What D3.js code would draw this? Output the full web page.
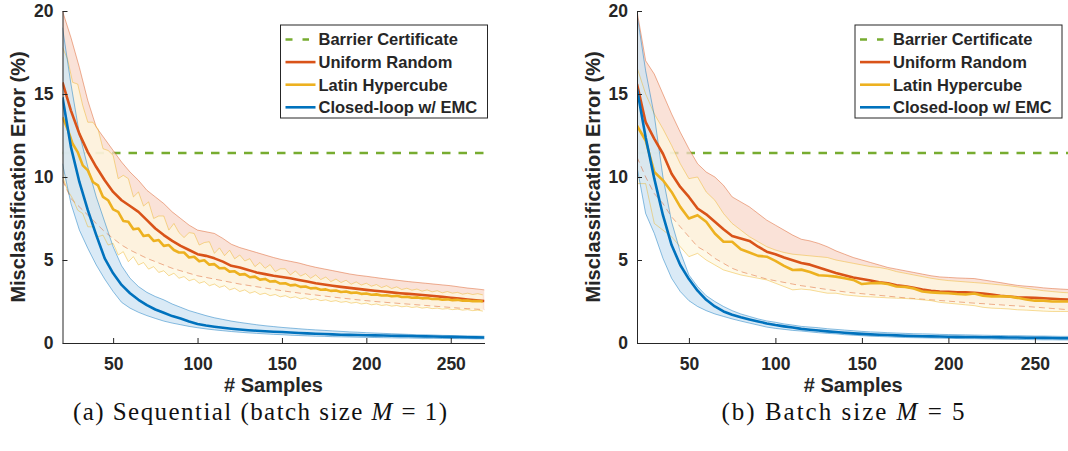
<!DOCTYPE html>
<html>
<head>
<meta charset="utf-8">
<title>Misclassification error vs. number of samples</title>
<script src="https://cdn.jsdelivr.net/npm/d3@7"></script>
<style>
  * { margin:0; padding:0; }
  body { background:#fff; }
  svg text { font-family:"Liberation Sans", Arial, sans-serif; fill:#262626; }
</style>
</head>
<body>
<div id="show"></div>
<script>
// ---------- data ----------
var xTicks = [50, 100, 150, 200, 250];
var yTicks = [0, 5, 10, 15, 20];
var legendNames = ["Barrier Certificate", "Uniform Random", "Latin Hypercube", "Closed-loop w/ EMC"];
var barrierLevel = [11.45];

// sample grids
var xs5 = d3.range(20, 271, 5);     // every 5 samples (smooth curves, batch M=5)
var xs3 = d3.range(20, 270, 3);     // every 3 samples (jagged curves, sequential)

// (a) sequential
var seqUniformMean = [15.7,14.0,12.6,11.5,10.6,9.8,9.1,8.6,8.25,7.9,7.4,6.9,6.5,6.15,5.85,5.6,5.35,5.25,5.1,4.9,4.65,4.55,4.4,4.25,4.15,4.05,3.98,3.9,3.8,3.7,3.6,3.52,3.45,3.38,3.32,3.26,3.2,3.15,3.1,3.05,3.0,2.96,2.92,2.88,2.83,2.78,2.73,2.68,2.62,2.57,2.53];
var seqUniformHi = [20.0,18.4,16.6,14.6,13.0,12.3,11.6,10.9,10.3,9.8,9.2,8.8,8.4,7.9,7.5,7.1,6.8,6.7,6.6,6.3,5.95,5.75,5.6,5.45,5.3,5.15,5.02,4.92,4.82,4.68,4.56,4.46,4.36,4.26,4.16,4.08,4.02,3.95,3.88,3.82,3.76,3.7,3.65,3.6,3.55,3.5,3.45,3.38,3.31,3.26,3.2];
var seqUniformLo = [9.8,8.7,8.2,7.7,7.2,6.7,6.3,5.9,5.6,5.35,5.1,4.9,4.7,4.5,4.35,4.2,4.05,3.95,3.85,3.75,3.65,3.55,3.47,3.39,3.31,3.23,3.15,3.08,3.01,2.95,2.89,2.83,2.77,2.71,2.66,2.6,2.55,2.5,2.46,2.42,2.38,2.34,2.3,2.26,2.22,2.18,2.14,2.1,2.07,2.04,2.01];

var seqLatinMean = [13.6,12.9,12.0,11.5,10.7,10.4,9.7,9.5,8.8,8.6,8.05,7.9,7.35,7.3,6.85,6.9,6.45,6.5,6.15,6.2,5.85,5.9,5.6,5.45,5.45,5.15,5.2,4.92,4.98,4.72,4.75,4.5,4.52,4.3,4.32,4.12,4.15,3.96,4.0,3.82,3.86,3.7,3.73,3.58,3.6,3.47,3.5,3.38,3.4,3.29,3.31,3.21,3.23,3.14,3.16,3.07,3.1,3.02,3.04,2.96,2.98,2.91,2.93,2.86,2.88,2.82,2.84,2.77,2.79,2.73,2.75,2.69,2.71,2.65,2.67,2.61,2.63,2.58,2.6,2.55,2.56,2.52,2.53,2.5];
var seqLatinHi = [17.8,17.1,15.7,15.6,14.3,13.3,13.3,12.9,11.7,11.6,11.3,9.9,10.1,9.9,8.8,9.1,8.25,8.5,7.5,7.65,7.65,6.8,7.2,6.65,6.35,6.65,6.6,5.9,6.05,6.1,5.4,5.73,5.26,5.59,5.07,5.3,4.94,5.08,4.6,4.85,4.5,4.72,4.3,4.47,4.47,4.1,4.34,4.03,4.18,3.9,4.1,3.82,3.97,3.7,3.85,3.64,3.78,3.54,3.68,3.49,3.6,3.42,3.52,3.34,3.45,3.28,3.38,3.22,3.3,3.18,3.25,3.12,3.2,3.08,3.15,3.02,3.1,3.0,3.05,2.94,3.0,2.92,2.97,2.9];
var seqLatinLo = [10.0,9.2,8.7,8.0,7.8,7.0,7.0,6.4,6.5,5.9,6.0,5.3,5.5,4.9,5.2,4.7,4.85,4.45,4.6,4.25,4.35,4.05,4.2,3.9,4.0,3.75,3.85,3.6,3.7,3.45,3.55,3.35,3.45,3.2,3.3,3.1,3.2,3.0,3.1,2.92,3.0,2.85,2.92,2.78,2.85,2.72,2.78,2.66,2.72,2.6,2.66,2.55,2.6,2.5,2.55,2.45,2.5,2.4,2.45,2.35,2.4,2.3,2.35,2.26,2.3,2.22,2.26,2.18,2.22,2.14,2.18,2.1,2.14,2.07,2.1,2.04,2.07,2.01,2.04,1.98,2.01,1.95,1.98,1.92];

var seqEmcMean = [14.8,11.8,9.7,8.0,6.5,5.1,4.2,3.5,3.0,2.6,2.28,2.02,1.82,1.62,1.47,1.3,1.15,1.05,0.98,0.92,0.86,0.81,0.77,0.74,0.71,0.68,0.66,0.63,0.6,0.58,0.56,0.54,0.52,0.5,0.49,0.48,0.47,0.46,0.45,0.44,0.43,0.42,0.41,0.4,0.39,0.38,0.37,0.36,0.35,0.34,0.33];
var seqEmcHi = [19.0,15.6,12.6,10.6,8.8,7.3,5.8,4.65,3.9,3.4,3.05,2.8,2.6,2.35,2.15,1.95,1.8,1.65,1.52,1.42,1.32,1.24,1.17,1.1,1.04,0.99,0.94,0.9,0.86,0.82,0.79,0.76,0.73,0.7,0.67,0.65,0.62,0.6,0.58,0.56,0.54,0.52,0.5,0.49,0.48,0.46,0.45,0.44,0.43,0.42,0.41];
var seqEmcLo = [10.8,8.4,6.8,5.7,4.7,3.85,3.1,2.45,2.1,1.85,1.65,1.48,1.32,1.2,1.1,1.0,0.92,0.85,0.79,0.74,0.69,0.65,0.61,0.58,0.55,0.52,0.5,0.47,0.45,0.43,0.41,0.4,0.38,0.37,0.36,0.35,0.34,0.33,0.32,0.31,0.3,0.3,0.29,0.28,0.28,0.27,0.27,0.26,0.26,0.25,0.25];

// (b) batch size M = 5
var batUniformMean = [15.6,13.3,12.3,11.4,10.2,9.4,8.8,8.1,7.75,7.3,6.85,6.45,6.3,6.15,5.8,5.5,5.35,5.15,4.98,4.82,4.72,4.55,4.38,4.22,4.08,3.95,3.85,3.76,3.66,3.6,3.48,3.42,3.32,3.22,3.15,3.1,3.08,3.06,3.05,3.03,2.98,2.92,2.85,2.8,2.76,2.74,2.72,2.7,2.67,2.64,2.62];
var batUniformHi = [20.0,17.0,16.2,15.0,13.8,12.7,11.7,10.8,10.3,10.0,9.5,8.8,8.5,8.2,7.8,7.4,7.1,6.8,6.5,6.25,6.15,6.0,5.8,5.55,5.35,5.15,5.0,4.85,4.7,4.55,4.45,4.35,4.25,4.15,4.05,3.98,3.95,3.92,3.9,3.88,3.8,3.72,3.64,3.55,3.47,3.42,3.38,3.32,3.28,3.25,3.22];
var batUniformLo = [11.2,10.0,9.0,8.4,7.6,7.0,6.4,5.8,5.5,5.1,4.8,4.5,4.3,4.15,4.0,3.85,3.75,3.65,3.55,3.45,3.38,3.3,3.22,3.15,3.08,3.02,2.97,2.92,2.87,2.82,2.77,2.72,2.68,2.64,2.6,2.56,2.52,2.48,2.44,2.4,2.37,2.33,2.3,2.26,2.23,2.2,2.16,2.12,2.08,2.04,2.0];

var batLatinMean = [13.1,12.2,10.3,9.8,9.1,8.2,7.5,7.7,7.3,6.6,6.1,6.1,5.65,5.45,5.25,5.2,4.95,4.65,4.4,4.42,4.28,4.08,4.05,4.0,3.9,3.8,3.55,3.6,3.62,3.55,3.4,3.38,3.28,3.1,3.05,3.02,3.0,2.95,2.92,2.98,2.85,2.8,2.82,2.8,2.72,2.62,2.55,2.55,2.5,2.5,2.5];
var batLatinHi = [16.6,15.0,13.8,12.9,11.9,10.8,9.9,10.0,9.1,8.6,7.8,7.2,6.8,6.4,6.1,5.8,5.6,5.45,5.35,5.3,5.25,5.2,5.15,5.0,4.9,4.8,4.7,4.6,4.55,4.45,4.3,4.2,4.1,4.0,3.9,3.82,3.76,3.72,3.68,3.64,3.6,3.55,3.5,3.45,3.38,3.3,3.22,3.15,3.1,3.05,3.02];
var batLatinLo = [9.6,9.6,7.2,6.8,6.4,5.8,5.2,5.4,5.0,4.7,4.4,4.25,4.1,4.0,3.9,3.8,3.6,3.4,3.2,3.25,3.2,3.1,3.0,3.0,2.9,2.85,2.8,2.78,2.75,2.72,2.7,2.68,2.65,2.6,2.55,2.45,2.4,2.35,2.3,2.25,2.15,2.1,2.08,2.05,2.0,1.98,1.95,1.92,1.9,1.9,1.9];

var batEmcMean = [15.3,12.4,9.9,7.7,5.9,4.7,3.85,3.15,2.6,2.2,1.9,1.7,1.55,1.42,1.3,1.18,1.08,1.0,0.93,0.85,0.8,0.75,0.7,0.66,0.62,0.58,0.55,0.52,0.5,0.48,0.46,0.44,0.42,0.41,0.4,0.39,0.38,0.37,0.36,0.36,0.35,0.35,0.34,0.33,0.33,0.32,0.32,0.31,0.3,0.29,0.28];
var batEmcHi = [19.8,16.4,13.7,10.0,7.3,5.5,4.1,3.4,2.85,2.5,2.2,1.95,1.75,1.6,1.45,1.33,1.25,1.15,1.08,1.0,0.96,0.92,0.86,0.82,0.78,0.74,0.7,0.67,0.65,0.62,0.6,0.58,0.56,0.55,0.54,0.52,0.51,0.5,0.49,0.48,0.47,0.46,0.45,0.44,0.44,0.43,0.42,0.42,0.41,0.4,0.4];
var batEmcLo = [10.6,7.8,6.6,5.1,3.9,3.1,2.55,2.2,1.95,1.75,1.6,1.45,1.32,1.2,1.08,0.96,0.88,0.82,0.76,0.72,0.67,0.62,0.58,0.55,0.5,0.47,0.44,0.41,0.39,0.37,0.35,0.33,0.32,0.31,0.3,0.29,0.28,0.27,0.26,0.26,0.25,0.24,0.23,0.22,0.21,0.21,0.2,0.19,0.19,0.18,0.18];

// ---------- drawing ----------
var colors = { barrier:"#77AC30", uniform:"#D95319", latin:"#EDB120", emc:"#0072BD" };
var bandFill = { uniform:"#F8D8CB", latin:"#FEF7E0", emc:"#CEE3F3" };

var svg = d3.select("#show").append("svg")
            .attr("width", 1068)
            .attr("height", 451);

function zip(xs, ys){
  return xs.map(function(v, i){ return [v, ys[i]]; });
}

function drawPanel(p){
  var x = d3.scaleLinear().domain([20, 270]).range([p.left, p.right]);
  var y = d3.scaleLinear().domain([0, 20]).range([343, 11]);
  var g = svg.append("g").attr("class", "panel");

  svg.append("clipPath").attr("id", "clip" + p.id)
     .append("rect")
     .attr("x", p.left).attr("y", 11)
     .attr("width", p.right - p.left).attr("height", 332);

  var plot = g.append("g").attr("clip-path", "url(#clip" + p.id + ")");
  var line = d3.line().x(function(d){ return x(d[0]); }).y(function(d){ return y(d[1]); });
  var area = d3.area()
               .x(function(d){ return x(d[0]); })
               .y0(function(d){ return y(d[1]); })
               .y1(function(d){ return y(d[2]); });

  // barrier certificate (constant), sits under the bands
  plot.append("path")
      .attr("d", line([[20, barrierLevel[0]], [270, barrierLevel[0]]]))
      .attr("fill", "none")
      .attr("stroke", colors.barrier)
      .attr("stroke-width", 2.6)
      .attr("stroke-dasharray", "8.5,8");

  // band fills
  p.series.forEach(function(s){
    var pts = s.xs.map(function(v, i){ return [v, s.lo[i], s.hi[i]]; });
    plot.append("path").attr("d", area(pts))
        .attr("fill", s.fill).attr("fill-opacity", 0.75).attr("stroke", "none");
  });
  // band edges
  p.series.forEach(function(s){
    plot.append("path").attr("d", line(zip(s.xs, s.hi)))
        .attr("fill", "none").attr("stroke", s.color)
        .attr("stroke-opacity", 0.45).attr("stroke-width", 1);
    plot.append("path").attr("d", line(zip(s.xs, s.lo)))
        .attr("fill", "none").attr("stroke", s.color)
        .attr("stroke-opacity", 0.45).attr("stroke-width", 1)
        .attr("stroke-dasharray", s.loDash ? "6,4" : null);
  });

  // mean curves
  p.series.forEach(function(s){
    plot.append("path").attr("d", line(zip(s.xs, s.mean)))
        .attr("fill", "none").attr("stroke", s.color)
        .attr("stroke-width", 2.6).attr("stroke-linejoin", "round");
  });

  // axes (MATLAB style, ticks pointing in, no box)
  var ax = g.append("g").attr("transform", "translate(0,343)")
            .call(d3.axisBottom(x).tickValues(xTicks).tickSizeInner(-5).tickSizeOuter(0).tickPadding(15));
  var ay = g.append("g").attr("transform", "translate(" + p.left + ",0)")
            .call(d3.axisLeft(y).tickValues(yTicks).tickSizeInner(-5).tickSizeOuter(0).tickPadding(9));
  [ax, ay].forEach(function(a){
    a.select(".domain").attr("stroke", "#262626");
    a.selectAll(".tick line").attr("stroke", "#262626");
    a.selectAll(".tick text").attr("font-size", 17.5).attr("font-weight", "bold")
     .attr("font-family", "Liberation Sans, Arial, sans-serif").attr("fill", "#262626");
  });

  g.append("text")
   .attr("x", (p.left + x(270)) / 2).attr("y", 392)
   .attr("text-anchor", "middle").attr("font-size", 20).attr("font-weight", "bold")
   .text("# Samples");

  g.append("text")
   .attr("transform", "translate(" + (p.left - 37.5) + ",177) rotate(-90)")
   .attr("text-anchor", "middle").attr("font-size", 20).attr("font-weight", "bold")
   .text("Misclassification Error (%)");

  // legend
  var lg = g.append("g").attr("transform", "translate(" + (p.left + 218) + ",25)");
  lg.append("rect").attr("width", 207).attr("height", 93)
    .attr("fill", "#fff").attr("stroke", "#262626").attr("stroke-width", 1);
  var legendColors = [colors.barrier, colors.uniform, colors.latin, colors.emc];
  legendNames.forEach(function(name, i){
    var ly = 14.5 + i * 22.6;
    lg.append("line").attr("x1", 5).attr("x2", i === 0 ? 28.5 : 35)
      .attr("y1", ly).attr("y2", ly)
      .attr("stroke", legendColors[i]).attr("stroke-width", 2.6)
      .attr("stroke-dasharray", i === 0 ? "7,10" : null);
    lg.append("text").attr("x", 38).attr("y", ly).attr("dy", "0.36em")
      .attr("font-size", 16.5).attr("font-weight", "bold").text(name);
  });

  // caption
  var cap = svg.append("text")
     .attr("x", p.capX).attr("y", 420)
     .attr("text-anchor", "middle")
     .style("font-family", "'Liberation Serif', 'Times New Roman', serif")
     .attr("font-size", 25).style("fill", "#111")
     .attr("textLength", p.capW).attr("lengthAdjust", "spacing");
  cap.append("tspan").text(p.caption[0]);
  cap.append("tspan").attr("font-style", "italic").text("M");
  cap.append("tspan").text(p.caption[1]);
}

drawPanel({
  id: "a", left: 62.5, right: 484.5, capX: 260, capW: 374,
  caption: ["(a) Sequential (batch size ", " = 1)"],
  series: [
    { color: colors.uniform, fill: bandFill.uniform, xs: xs5, mean: seqUniformMean, hi: seqUniformHi, lo: seqUniformLo, loDash: true },
    { color: colors.latin,   fill: bandFill.latin,   xs: xs3, mean: seqLatinMean,   hi: seqLatinHi,   lo: seqLatinLo },
    { color: colors.emc,     fill: bandFill.emc,     xs: xs5, mean: seqEmcMean,     hi: seqEmcHi,     lo: seqEmcLo }
  ]
});

drawPanel({
  id: "b", left: 637, right: 1069.5, capX: 843, capW: 243,
  caption: ["(b) Batch size ", " = 5"],
  series: [
    { color: colors.uniform, fill: bandFill.uniform, xs: xs5, mean: batUniformMean, hi: batUniformHi, lo: batUniformLo, loDash: true },
    { color: colors.latin,   fill: bandFill.latin,   xs: xs5, mean: batLatinMean,   hi: batLatinHi,   lo: batLatinLo },
    { color: colors.emc,     fill: bandFill.emc,     xs: xs5, mean: batEmcMean,     hi: batEmcHi,     lo: batEmcLo }
  ]
});
</script>
</body>
</html>
